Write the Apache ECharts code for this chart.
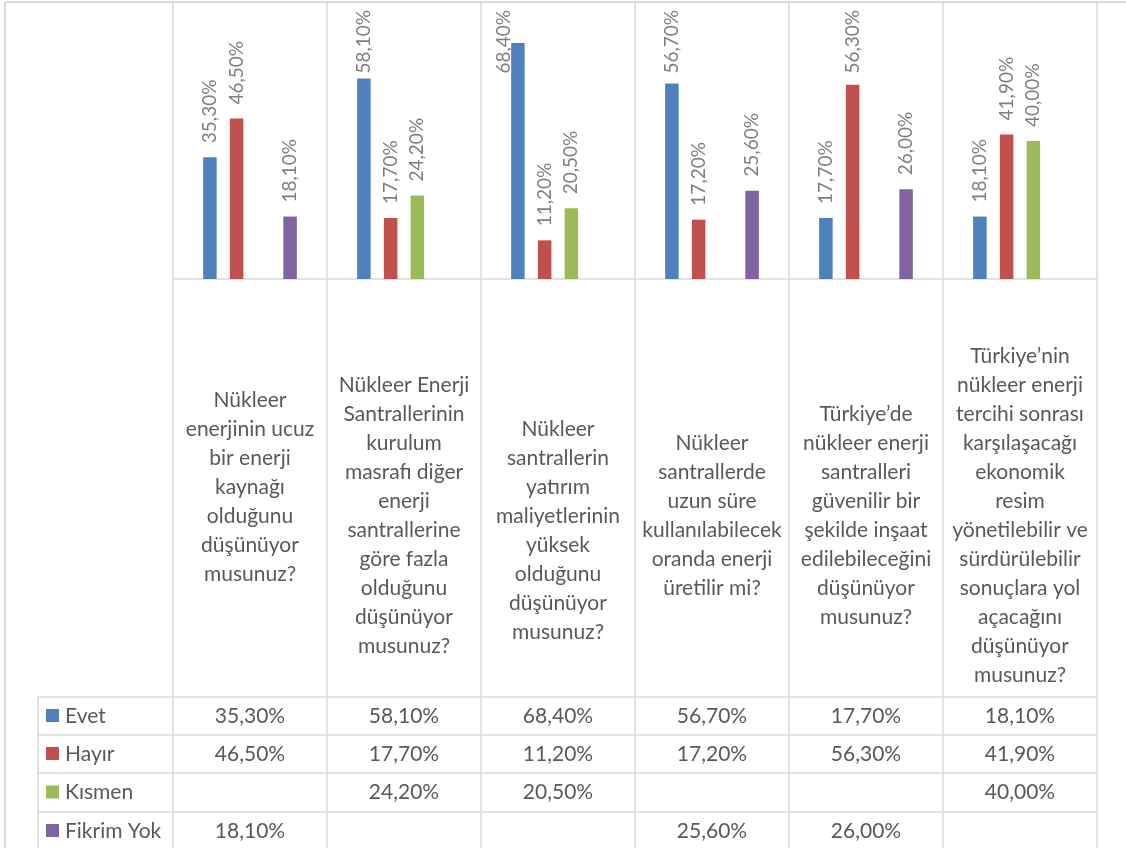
<!DOCTYPE html>
<html><head><meta charset="utf-8">
<script src="https://cdn.jsdelivr.net/npm/echarts@6/dist/echarts.min.js"></script>
<style>html,body{margin:0;padding:0;background:#fff}#c{width:1126px;height:848px}</style>
</head><body><div id="c"></div>
<script>
var categories = [
  "Nükleer\nenerjinin ucuz\nbir enerji\nkaynağı\nolduğunu\ndüşünüyor\nmusunuz?\n\n",
  "Nükleer Enerji\nSantrallerinin\nkurulum\nmasrafı diğer\nenerji\nsantrallerine\ngöre fazla\nolduğunu\ndüşünüyor\nmusunuz?",
  "\nNükleer\nsantrallerin\nyatırım\nmaliyetlerinin\nyüksek\nolduğunu\ndüşünüyor\nmusunuz?",
  "Nükleer\nsantrallerde\nuzun süre\nkullanılabilecek\noranda enerji\nüretilir mi?",
  "Türkiye’de\nnükleer enerji\nsantralleri\ngüvenilir bir\nşekilde inşaat\nedilebileceğini\ndüşünüyor\nmusunuz?",
  "Türkiye’nin\nnükleer enerji\ntercihi sonrası\nkarşılaşacağı\nekonomik\nresim\nyönetilebilir ve\nsürdürülebilir\nsonuçlara yol\naçacağını\ndüşünüyor\nmusunuz?"
];
var seriesNames = ["Evet", "Hayır", "Kısmen", "Fikrim Yok"];
var evet = [35.3, 58.1, 68.4, 56.7, 17.7, 18.1];
var hayir = [46.5, 17.7, 11.2, 17.2, 56.3, 41.9];
var kismen = [null, 24.2, 20.5, null, null, 40.0];
var fikrimYok = [18.1, null, null, 25.6, 26.0, null];
var colors = ["#4F81BD", "#C0504D", "#9BBB59", "#8064A2"];

var allData = [evet, hayir, kismen, fikrimYok];
var FONT = "Lato";
var LABEL_SIZE = 19, TEXT_SIZE = 21;
var LABEL_DIST = 14, LABEL_MIN_TOP = 10, BAR_W = 13.5;
function fmt(v){ return v == null ? "" : v.toFixed(2).replace(".", ",") + "%"; }

var mctx = document.createElement('canvas').getContext('2d');
mctx.font = LABEL_SIZE + 'px ' + FONT;
function textLen(s){ return mctx.measureText(s).width; }

var chart = echarts.init(document.getElementById('c'));
function buildSeries(adjust){
  return seriesNames.map(function(n, i){
    return {
      name: n, type: 'bar', barWidth: BAR_W, barGap: '98%', barCategoryGap: '40%',
      data: allData[i].map(function(v, j){
        if (adjust && v != null) {
          var top = chart.convertToPixel({ yAxisIndex: 0 }, v);
          var len = textLen(fmt(v));
          if (top - LABEL_DIST - len < LABEL_MIN_TOP) {
            // keep label inside plot area, like the original: clamp its top edge
            var bottom = LABEL_MIN_TOP + len;
            var dx = bottom <= top - 2 ? BAR_W / 2 : -7;
            return { value: v, label: { position: [dx, bottom - top] } };
          }
        }
        return v;
      }),
      itemStyle: { color: colors[i] },
      label: { show: true, position: 'top', rotate: 90, distance: LABEL_DIST, align: 'left', verticalAlign: 'middle',
        color: '#7f7f7f', fontFamily: FONT, fontSize: LABEL_SIZE,
        formatter: function(p){ return fmt(p.value); } }
    };
  });
}
chart.setOption({
  animation: false,
  textStyle: { fontFamily: FONT },
  grid: { left: 173, right: 29, top: 3, bottom: 569, containLabel: false },
  xAxis: {
    type: 'category', data: categories,
    axisLine: { show: true, lineStyle: { color: '#d9d9d9', width: 1.5 } },
    axisTick: { show: true, length: 418, lineStyle: { color: '#d9d9d9', width: 1.5 } },
    splitLine: { show: true, lineStyle: { color: '#d9d9d9', width: 1.5 } },
    axisLabel: { interval: 0, margin: 237, verticalAlign: 'middle', align: 'center', color: '#595959',
      fontFamily: FONT, fontSize: TEXT_SIZE, lineHeight: 29 }
  },
  yAxis: { type: 'value', min: 0, max: 80, show: false, splitLine: { show: false } },
  series: buildSeries(false)
});
chart.setOption({ series: buildSeries(true) });

// data table
var g = [];
var lineC = '#d9d9d9';
var rowTops = [697, 735, 773, 812, 850];
var tableLeft = 38, tableRight = 1097, colStart = 173;
g.push({ type: 'line', shape: { x1: 5, y1: 2, x2: 1126, y2: 2 }, style: { stroke: lineC, lineWidth: 2 } });
g.push({ type: 'line', shape: { x1: 5, y1: 2, x2: 5, y2: 848 }, style: { stroke: lineC, lineWidth: 2 } });
rowTops.forEach(function(y){
  g.push({ type: 'line', shape: { x1: tableLeft, y1: y, x2: tableRight, y2: y }, style: { stroke: lineC, lineWidth: 1.5 } });
});
g.push({ type: 'line', shape: { x1: tableLeft, y1: 697, x2: tableLeft, y2: 850 }, style: { stroke: lineC, lineWidth: 1.5 } });
for (var k = 0; k <= categories.length; k++) {
  var xb = colStart + (tableRight - colStart) * k / categories.length;
  g.push({ type: 'line', shape: { x1: xb, y1: 697, x2: xb, y2: 850 }, style: { stroke: lineC, lineWidth: 1.5 } });
}
seriesNames.forEach(function(n, i){
  var yc = (rowTops[i] + rowTops[i+1]) / 2;
  g.push({ type: 'rect', shape: { x: 46, y: yc - 7, width: 13, height: 13 }, style: { fill: colors[i] } });
  g.push({ type: 'text', x: 65, y: yc, style: { text: n, fill: '#595959', font: TEXT_SIZE + 'px ' + FONT, verticalAlign: 'middle', align: 'left' } });
  allData[i].forEach(function(v, j){
    if (v == null) return;
    var xc = chart.convertToPixel({ xAxisIndex: 0 }, j);
    g.push({ type: 'text', x: xc, y: yc, style: { text: fmt(v), fill: '#595959', font: TEXT_SIZE + 'px ' + FONT, verticalAlign: 'middle', align: 'center' } });
  });
});
chart.setOption({ graphic: g });
</script>
</body></html>
